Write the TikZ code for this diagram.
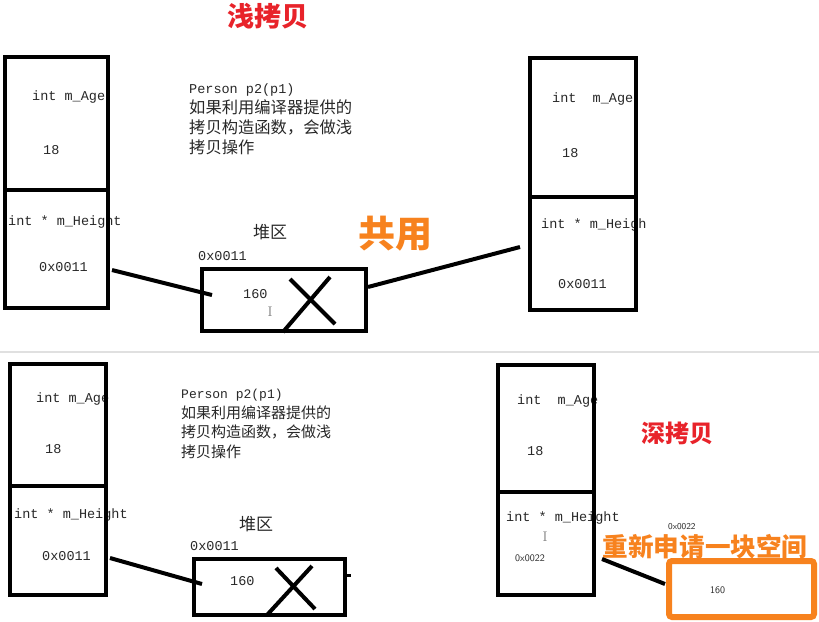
\documentclass[tikz,border=0pt]{standalone}
\usepackage{fontspec}
\setmonofont{Liberation Mono}
\newfontfamily\cjk{Noto Sans CJK SC}
\definecolor{titlered}{RGB}{232,35,42}
\definecolor{hiorange}{RGB}{247,130,30}
\definecolor{txtgray}{RGB}{40,40,40}
\begin{document}
\begin{tikzpicture}[x=1pt,y=-1pt,
  mono/.style={font=\ttfamily\fontsize{13.5}{15}\selectfont, text=txtgray, anchor=west, inner sep=0pt},
  small/.style={font=\sffamily\fontsize{10}{12}\selectfont, text=txtgray, anchor=west, inner sep=0pt},
  cjklab/.style={font=\cjk\fontsize{17}{20}\selectfont, text=txtgray, inner sep=0pt},
  block/.style={font=\cjk\fontsize{16.3}{20}\selectfont, text=txtgray, align=left, anchor=north west, inner sep=0pt},
  cell/.style={draw=black, line width=4.5pt, inner sep=0pt},
  heap/.style={draw=black, line width=3.5pt, inner sep=0pt},
  link/.style={draw=black, line width=4pt},
  cross/.style={draw=black, line width=4pt},
  titletxt/.style={font=\cjk\bfseries\fontsize{27}{27}\selectfont, text=titlered, inner sep=0pt},
  hitxt/.style={font=\cjk\bfseries\fontsize{37}{37}\selectfont, text=hiorange, inner sep=0pt},
  cursor/.style={font=\rmfamily\fontsize{14}{14}\selectfont, text=gray, inner sep=0pt}
]
\useasboundingbox (0,0) rectangle (819,621);
\fill[white] (0,0) rectangle (819,621);

% separator
\draw[line width=2pt, black!12] (0,352) -- (819,352);

% ---------------- top: shallow copy ----------------
\node[titletxt] (t1) at (268,16) {浅拷贝};
\node[block] (b1) at (189,84) {\ttfamily\fontsize{13.5}{20}\selectfont Person p2(p1)\\如果利用编译器提供的\\拷贝构造函数，会做浅\\拷贝操作};

\node[mono] (a1t) at (32,97) {int m\_Age};
\node[mono] (a1v) at (43,150) {18};
\node[mono] (a2t) at (8,222) {int * m\_Height};
\node[mono] (a2v) at (39,267) {0x0011};
\node[cell, minimum width=103pt, minimum height=133pt] (A1) at (56.5,123.5) {};
\node[cell, minimum width=103pt, minimum height=118pt] (A2) at (56.5,249) {};

\node[cjklab] (heap1) at (270,232) {堆区};
\node[mono] (h1a) at (198,256) {0x0011};
\node[heap, minimum width=164pt, minimum height=62pt] (H1) at (284,300) {};
\node[mono] (h1v) at (243,294) {160};
\node[cursor] (cur1) at (270,312) {I};
\draw[cross] (290,279) -- (335,324);
\draw[cross] (330,277) -- (283,332);

\node[hitxt] (share) at (395,234) {共用};

\node[mono] (b1t) at (552,99) {int\ \ m\_Age};
\node[mono] (b1v) at (562,153) {18};
\node[mono] (b2t) at (541,225) {int * m\_Heigh};
\node[mono] (b2v) at (558,284) {0x0011};
\node[cell, minimum width=106pt, minimum height=139pt] (B1) at (583,127.5) {};
\node[cell, minimum width=106pt, minimum height=113pt] (B2) at (583,253.5) {};

\coordinate (l1s) at (112,270);
\coordinate (l1e) at (212,295);
\coordinate (l2s) at (368,287);
\coordinate (l2e) at (520,247);
\draw[link] (l1s) -- (l1e);
\draw[link] (l2s) -- (l2e);

% ---------------- bottom: deep copy ----------------
\node[block, font=\cjk\fontsize{15}{19.5}\selectfont] (b2) at (181,389) {\ttfamily\fontsize{13}{19.5}\selectfont Person p2(p1)\\如果利用编译器提供的\\拷贝构造函数，会做浅\\拷贝操作};

\node[mono] (c1t) at (36,399) {int m\_Age};
\node[mono] (c1v) at (45,449) {18};
\node[mono] (c2t) at (14,515) {int * m\_Height};
\node[mono] (c2v) at (42,556) {0x0011};
\node[cell, minimum width=96pt, minimum height=122pt] (C1) at (58,425) {};
\node[cell, minimum width=96pt, minimum height=109pt] (C2) at (58,540.5) {};

\node[cjklab] (heap2) at (256,524) {堆区};
\node[mono] (h2a) at (190,546) {0x0011};
\node[heap, minimum width=151pt, minimum height=56pt] (H2) at (269.5,587) {};
\node[mono] (h2v) at (230,581) {160};
\draw[cross] (276,568) -- (315,609);
\draw[cross] (312,566) -- (267,615);
\coordinate (tk1) at (347,575);
\coordinate (tk2) at (351,575);
\draw[line width=3pt] (tk1) -- (tk2);

\node[titletxt, font=\cjk\bfseries\fontsize{24}{24}\selectfont] (t2) at (677,433) {深拷贝};

\node[mono] (d1t) at (517,401) {int\ \ m\_Age};
\node[mono] (d1v) at (527,451) {18};
\node[mono] (d2t) at (506,518) {int * m\_Height};
\node[small] (d2v) at (515,558) {0x0022};
\node[cursor] (cur2) at (545,537) {I};
\node[cell, minimum width=96pt, minimum height=127pt] (D1) at (546,428.5) {};
\node[cell, minimum width=96pt, minimum height=103pt] (D2) at (546,543.5) {};

\node[small, font=\sffamily\fontsize{9}{10}\selectfont] (na) at (668,527) {0x0022};
\node[hitxt, font=\cjk\bfseries\fontsize{25.6}{26}\selectfont] (newsp) at (705,547) {重新申请一块空间};
\node[draw=hiorange, line width=6pt, rounded corners=3pt, minimum width=145pt, minimum height=56pt, inner sep=0pt] (O) at (741.5,589) {};
\node[small] (ov) at (710,590) {160};

\coordinate (l3s) at (110,558);
\coordinate (l3e) at (202,584);
\coordinate (l4s) at (602,559);
\coordinate (l4e) at (665,584);
\draw[link] (l3s) -- (l3e);
\draw[link] (l4s) -- (l4e);
\end{tikzpicture}
\end{document}
